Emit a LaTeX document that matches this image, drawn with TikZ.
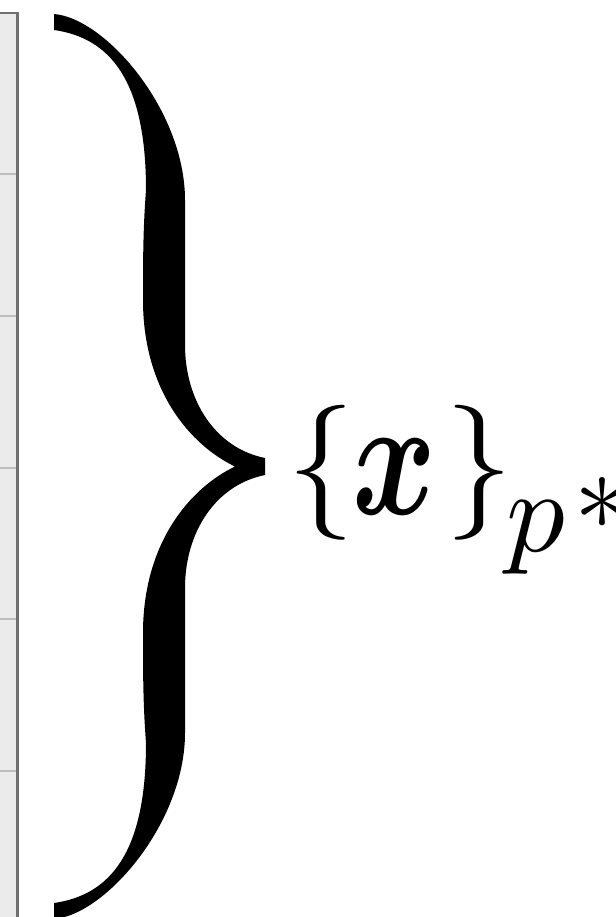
\documentclass[tikz,border=0pt]{standalone}
\usepackage{graphicx}
\usepackage{bm}
\definecolor{panelgray}{HTML}{EBEBEB}
\definecolor{edgegray}{HTML}{707070}
\definecolor{sepgray}{HTML}{BEBEBE}

\begin{document}
\begin{tikzpicture}[x=1pt, y=-1pt]
        \useasboundingbox (0,0) rectangle (615,917);
        \clip (0,0) rectangle (615,917);

        % Column of cells at the left edge
        \fill[panelgray] (0,13) rectangle (17,917);
        \foreach \y in {174, 316, 468, 619, 771} {
            \draw[sepgray, line width=2pt] (0,\y) -- (18,\y);
        }
        \draw[edgegray, line width=2.5pt] (0,13) -- (17.5,13) -- (17.5,917);

        % Big brace over the column
        \fill[black] (54,14) .. controls (105,18) and (185,110) .. (185,200)
            -- (185,345) .. controls (185,400) and (215,448) .. (265,458)
            -- (265,475) .. controls (215,485) and (185,533) .. (185,588)
            -- (185,733) .. controls (185,823) and (105,915) .. (54,919)
            -- (54,903) .. controls (110,895) and (146,853) .. (146,743)
            .. controls (143,703) and (143,673) .. (143,633)
            .. controls (143,543) and (190,488) .. (235,466.5)
            .. controls (190,445) and (143,390) .. (143,300)
            .. controls (143,260) and (143,230) .. (146,190)
            .. controls (146,80) and (110,38) .. (54,30) -- cycle;

        % Set label
        \node[inner sep=0, anchor=base] (lbrace) at (321.5,506) {\scalebox{13.5}{$\{$}};
        \node[inner sep=0, anchor=base] (xvec) at (395,514) {\resizebox{84pt}{75pt}{$\bm{x}$}};
        \node[inner sep=0, anchor=base] (rbrace) at (479,506) {\scalebox{13.5}{$\}$}};
        \node[inner sep=0, anchor=base] (subp) at (536,551) {\scalebox{11.7}{$p$}};
        \node[inner sep=0, anchor=base] (star) at (602,561) {\scalebox{11.2}{*}};
    \end{tikzpicture}
\end{document}
